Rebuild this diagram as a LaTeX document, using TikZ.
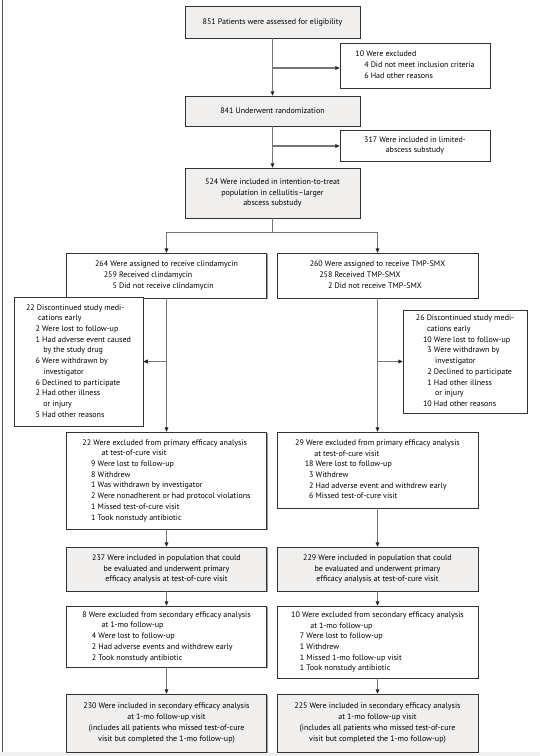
\documentclass[tikz,border=0pt]{standalone}
\usepackage{fontspec}
\setmainfont{PT Sans}
\usetikzlibrary{arrows.meta,shadows}
\definecolor{boxgray}{RGB}{240,239,238}
\definecolor{linegray}{RGB}{118,118,118}
\definecolor{framegray}{RGB}{80,80,80}
\newcommand{\hd}[1]{\multicolumn{2}{@{}l@{}}{#1}}
\newcommand{\ind}[1]{\hspace*{#1}}
\begin{document}
\begin{tikzpicture}[x=1pt,y=-1pt,
  box/.style={draw=black!80, line width=0.5pt, inner sep=0pt,
    font=\fontsize{8}{10.7}\selectfont,
    drop shadow={shadow xshift=1pt,shadow yshift=-1pt,fill=black!40,opacity=1}},
  mainbox/.style={box, fill=boxgray, align=center},
  exbox/.style={box, fill=white},
  conn/.style={draw=linegray, line width=1.1pt},
  arr/.style={conn, -{Triangle[length=4.5pt,width=3.8pt,fill=black!85,color=black!85]}}
]
\useasboundingbox (0,0) rectangle (540,756);
\fill[white] (0,0) rectangle (540,756);
\fill[black!6] (0,752) rectangle (540,756);
\draw[framegray, line width=1pt] (2.5,0) -- (2.5,752);

% main column
\node[mainbox, minimum width=175, minimum height=32] (b1) at (272.5,22)
  {851 Patients were assessed for eligibility};
\node[exbox, minimum width=150, minimum height=45] (ex1) at (415,65.5)
  {\begin{tabular}{@{}r@{ }l@{}}
   \hd{10 Were excluded}\\
   \ind{1.1em}4 & Did not meet inclusion criteria\\
   6 & Had other reasons
   \end{tabular}};
\node[mainbox, minimum width=175, minimum height=30] (b2) at (272.5,111)
  {841 Underwent randomization};
\node[exbox, align=center, minimum width=150, minimum height=31] (ex2) at (415,145.5)
  {317 Were included in limited-\\abscess substudy};
\node[mainbox, minimum width=175, minimum height=50] (b3) at (272.5,193)
  {524 Were included in intention-to-treat\\population in cellulitis--larger\\abscess substudy};

% arms
\node[exbox, minimum width=200, minimum height=45] (a1) at (166.5,275.5)
  {\begin{tabular}{@{}r@{ }l@{}}
   \hd{264 Were assigned to receive clindamycin}\\
   \ind{1.1em}259 & Received clindamycin\\
   5 & Did not receive clindamycin
   \end{tabular}};
\node[exbox, minimum width=201, minimum height=45] (a2) at (377.5,275.5)
  {\begin{tabular}{@{}r@{ }l@{}}
   \hd{260 Were assigned to receive TMP-SMX}\\
   \ind{1.2em}258 & Received TMP-SMX\\
   2 & Did not receive TMP-SMX
   \end{tabular}};

% discontinued
\node[exbox, minimum width=129, minimum height=129] (dl) at (78.5,361.5)
  {\begin{tabular}{@{}r@{ }l@{}}
   \hd{22 Discontinued study medi-}\\
   \hd{\ind{1.5em}cations early}\\
   \ind{1.2em}2 & Were lost to follow-up\\
   1 & Had adverse event caused\\
     & \ind{0.15em}by the study drug\\
   6 & Were withdrawn by\\
     & \ind{0.15em}investigator\\
   6 & Declined to participate\\
   2 & Had other illness\\
     & \ind{0.15em}or injury\\
   5 & Had other reasons
   \end{tabular}};
\node[exbox, minimum width=124, minimum height=103] (dr) at (465,361.5)
  {\begin{tabular}{@{}r@{ }l@{}}
   \hd{26 Discontinued study medi-}\\
   \hd{\ind{1.4em}cations early}\\
   \ind{0.9em}10 & Were lost to follow-up\\
   3 & Were withdrawn by\\
     & \ind{0.15em}investigator\\
   2 & Declined to participate\\
   1 & Had other illness\\
     & \ind{0.15em}or injury\\
   10 & Had other reasons
   \end{tabular}};

% primary exclusions
\node[exbox, minimum width=200, minimum height=97] (e22) at (166.5,480.5)
  {\begin{tabular}{@{}r@{ }l@{}}
   \hd{22 Were excluded from primary efficacy analysis}\\
   \hd{\ind{2.4em}at test-of-cure visit}\\
   \ind{1.1em}9 & Were lost to follow-up\\
   8 & Withdrew\\
   1 & Was withdrawn by investigator\\
   2 & Were nonadherent or had protocol violations\\
   1 & Missed test-of-cure visit\\
   1 & Took nonstudy antibiotic
   \end{tabular}};
\node[exbox, minimum width=201, minimum height=76] (e29) at (377.5,470)
  {\begin{tabular}{@{}r@{ }l@{}}
   \hd{29 Were excluded from primary efficacy analysis}\\
   \hd{\ind{2.4em}at test-of-cure visit}\\
   \ind{1.2em}18 & Were lost to follow-up\\
   3 & Withdrew\\
   2 & Had adverse event and withdrew early\\
   6 & Missed test-of-cure visit
   \end{tabular}};

% primary populations
\node[mainbox, minimum width=200, minimum height=44] (c237) at (166.5,569)
  {237 Were included in population that could\\be evaluated and underwent primary\\efficacy analysis at test-of-cure visit};
\node[mainbox, minimum width=201, minimum height=44] (c229) at (377.5,569)
  {229 Were included in population that could\\be evaluated and underwent primary\\efficacy analysis at test-of-cure visit};

% secondary exclusions
\node[exbox, minimum width=200, minimum height=61] (e8) at (166.5,636.5)
  {\begin{tabular}{@{}r@{ }l@{}}
   \hd{8 Were excluded from secondary efficacy analysis}\\
   \hd{\ind{2.4em}at 1-mo follow-up}\\
   \ind{1.2em}4 & Were lost to follow-up\\
   2 & Had adverse events and withdrew early\\
   2 & Took nonstudy antibiotic
   \end{tabular}};
\node[exbox, minimum width=201, minimum height=72] (e10) at (377.5,642)
  {\begin{tabular}{@{}r@{ }l@{}}
   \hd{10 Were excluded from secondary efficacy analysis}\\
   \hd{\ind{2.4em}at 1-mo follow-up}\\
   \ind{1.1em}7 & Were lost to follow-up\\
   1 & Withdrew\\
   1 & Missed 1-mo follow-up visit\\
   1 & Took nonstudy antibiotic
   \end{tabular}};

% secondary populations
\node[mainbox, minimum width=200, minimum height=58] (c230) at (166.5,723)
  {230 Were included in secondary efficacy analysis\\at 1-mo follow-up visit\\(includes all patients who missed test-of-cure\\visit but completed the 1-mo follow-up)};
\node[mainbox, minimum width=201, minimum height=58] (c225) at (377.5,723)
  {225 Were included in secondary efficacy analysis\\at 1-mo follow-up visit\\(includes all patients who missed test-of-cure\\visit but completed the 1-mo follow-up)};

% connectors
\draw[arr] (b1.south) -- (b2.north);
\coordinate (j1) at (272.5,68);
\draw[arr] (j1) -- (j1 -| ex1.west);
\draw[arr] (b2.south) -- (b3.north);
\coordinate (j2) at (272.5,146);
\draw[arr] (j2) -- (j2 -| ex2.west);
\draw[conn] (b3.south) -- ++(0,14) coordinate (sp);
\draw[conn] (sp -| a1.north) -- (sp -| a2.north);
\draw[arr] (sp -| a1.north) -- (a1.north);
\draw[arr] (sp -| a2.north) -- (a2.north);

\draw[arr] (a1.south) -- (e22.north);
\draw[arr] (a1.south |- dl.east) -- (dl.east);
\draw[arr] (a2.south) -- (e29.north);
\draw[arr] (a2.south |- dr.west) -- (dr.west);

\draw[arr] (e22.south) -- (c237.north);
\draw[arr] (e29.south) -- (c229.north);
\draw[arr] (c237.south) -- (e8.north);
\draw[arr] (c229.south) -- (e10.north);
\draw[arr] (e8.south) -- (c230.north);
\draw[arr] (e10.south) -- (c225.north);
\end{tikzpicture}
\end{document}
